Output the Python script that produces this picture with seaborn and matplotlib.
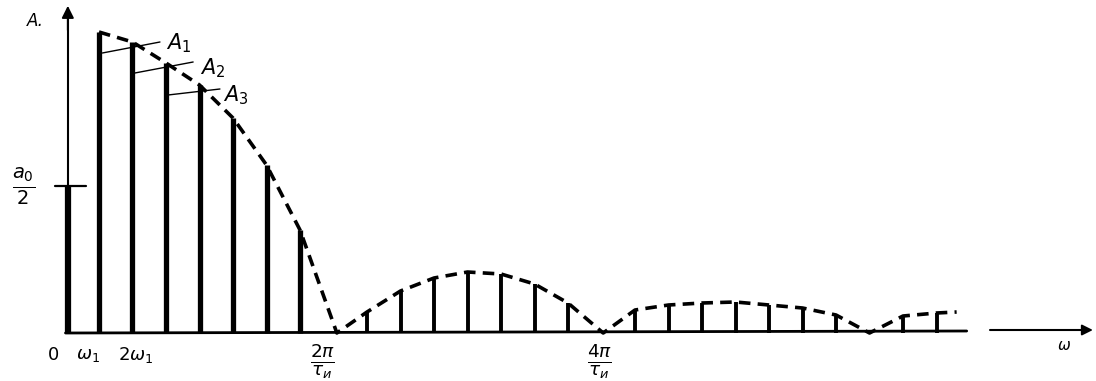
import seaborn as sns
import matplotlib.pyplot as plt

# номера гармоник и их амплитуды (в пикселях высоты)
harm_n = [1, 2, 3, 4, 5, 6, 7,
          9, 10, 11, 12, 13, 14, 15,
          17, 18, 19, 20, 21, 22, 23,
          25, 26]
harm_a = [301, 291, 270, 248, 215, 168, 103,
          21, 42, 55, 61, 59, 49, 30,
          23, 28, 30, 31, 28, 25, 18,
          17, 20]

# постоянная составляющая a0/2
dc_a = 147

# огибающая (пунктир), точки
env_n = [1.0, 2, 3, 4, 5, 6, 7, 8.1,
         9, 10, 11, 12, 13, 14, 15, 16.05,
         17, 18, 19, 20, 21, 22, 23, 24.0,
         25, 26, 26.6]
env_h = [301, 291, 270, 248, 215, 168, 103, 0,
         21, 42, 55, 61, 59, 49, 30, 0,
         23, 28, 30, 31, 28, 25, 18, 0,
         17, 20, 21]

sns.set_style("white")
plt.rcParams['font.family'] = ['DejaVu Sans']
plt.rcParams['mathtext.fontset'] = 'dejavusans'
plt.rcParams['text.color'] = 'black'

fig = plt.figure(figsize=(10.96, 3.81), dpi=100)
ax = fig.add_axes([0, 0, 1, 1])
ax.set_xlim(-1.955, 30.76)
ax.set_ylim(-48, 333)
ax.axis('off')

# оси
ax.plot([0.07, 0.07], [0, 322], color='black', lw=1.5)
ax.annotate('', xy=(0.07, 330), xytext=(0.07, 300),
            arrowprops=dict(arrowstyle='-|>', color='black', lw=1.4,
                            mutation_scale=18))
ax.plot([0, 26.9], [0, 2], color='black', lw=2.0)
ax.plot([27.6, 30.3], [3, 3], color='black', lw=1.5)
ax.annotate('', xy=(30.75, 3), xytext=(29.5, 3),
            arrowprops=dict(arrowstyle='-|>', color='black', lw=1.4,
                            mutation_scale=16))

# постоянная составляющая
ax.vlines([0.07], 0, dc_a, color='black', lw=4.5)
ax.plot([-0.3, 0.6], [dc_a, dc_a], color='black', lw=1.6)

# гармоники
lw = [3.8 if n < 8 else 2.8 for n in harm_n]
ax.vlines(harm_n, 0, harm_a, color='black', lw=lw)

# огибающая
sns.lineplot(x=env_n, y=env_h, ax=ax, color='black', lw=2.6,
             linestyle=(0, (3.2, 2.0)), sort=False, estimator=None)

# выноски A1, A2, A3
ax.plot([1.1, 2.82], [280, 291], color='black', lw=1.0)
ax.plot([2.07, 3.81], [260, 271], color='black', lw=1.0)
ax.plot([3.06, 4.61], [238, 244], color='black', lw=1.0)
ax.text(3.0, 290, r'$A_1$', fontsize=15, va='center', ha='left')
ax.text(4.0, 265, r'$A_2$', fontsize=15, va='center', ha='left')
ax.text(4.7, 238, r'$A_3$', fontsize=15, va='center', ha='left')

# подписи
ax.text(-0.9, 312, 'A.', fontsize=12, style='italic', va='center', ha='center')
ax.text(-1.25, dc_a, r'$\frac{a_0}{2}$', fontsize=20, va='center', ha='center')
ax.text(-0.38, -22, r'$\mathit{0}$', fontsize=13, va='center', ha='center')
ax.text(0.67, -22, r'$\omega_1$', fontsize=13, va='center', ha='center')
ax.text(2.1, -22, r'$\mathit{2}\omega_1$', fontsize=13, va='center', ha='center')
ax.text(7.68, -28, r'$\frac{\mathit{2}\pi}{\tau_{и}}$', fontsize=19, va='center', ha='center')
ax.text(15.95, -28, r'$\frac{\mathit{4}\pi}{\tau_{и}}$', fontsize=19, va='center', ha='center')
ax.text(29.8, -12, r'$\omega$', fontsize=11, va='center', ha='center')

fig.savefig('out.png', dpi=100)
